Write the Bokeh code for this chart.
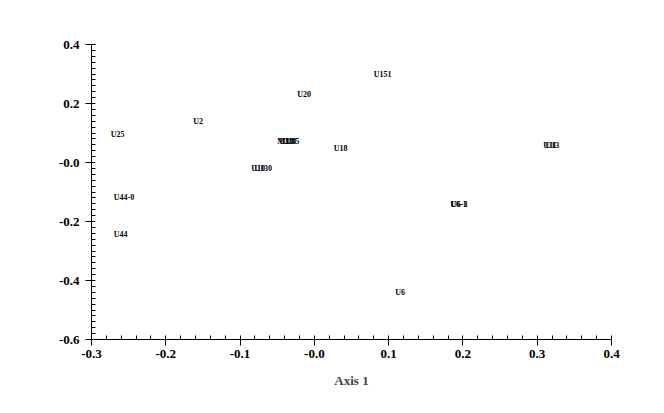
from bokeh.plotting import figure
from bokeh.models import ColumnDataSource, FixedTicker, Range1d
from bokeh.core.properties import value
from bokeh.embed import file_html
from bokeh.resources import INLINE

# Point labels and their scores on axis 1 / axis 2
names = ["U151", "U20", "U2", "U25", "M1", "U30", "U38", "U35", "U18",
         "U10", "U130", "U11", "U13", "U44-0", "U44", "U6-1", "U6-3", "U6"]
axis1 = [0.080, -0.023, -0.163, -0.274, -0.050, -0.047, -0.043, -0.039, 0.026,
         -0.085, -0.081, 0.308, 0.311, -0.270, -0.270, 0.183, 0.184, 0.109]
axis2 = [0.298, 0.231, 0.139, 0.095, 0.071, 0.071, 0.071, 0.071, 0.047,
         -0.020, -0.020, 0.057, 0.057, -0.119, -0.244, -0.142, -0.142, -0.441]

x_ticks = [-0.3, -0.2, -0.1, 0.0, 0.1, 0.2, 0.3, 0.4]
x_tick_labels = ["-0.3", "-0.2", "-0.1", "-0.0", "0.1", "0.2", "0.3", "0.4"]
y_ticks = [-0.6, -0.4, -0.2, 0.0, 0.2, 0.4]
y_tick_labels = ["-0.6", "-0.4", "-0.2", "-0.0", "0.2", "0.4"]

src = ColumnDataSource(dict(x=axis1, y=axis2, t=names))

p = figure(width=648, height=397, output_backend="svg", toolbar_location=None,
           x_range=Range1d(-0.3, 0.4), y_range=Range1d(-0.6, 0.4),
           min_border_left=91, min_border_right=37, min_border_top=44,
           min_border_bottom=58)
p.outline_line_color = None
p.xgrid.visible = False
p.ygrid.visible = False
p.background_fill_color = "white"

p.text(x="x", y="y", text="t", source=src, text_align="left",
       text_baseline="middle", text_font=value("Liberation Serif"),
       text_font_style="bold", text_font_size="8px", text_color="black")

font = "Liberation Serif"
for ax in (p.xaxis[0], p.yaxis[0]):
    ax.axis_line_color = "black"
    ax.major_tick_line_color = "black"
    ax.minor_tick_line_color = "black"
    ax.major_tick_out = 6
    ax.major_tick_in = 0
    ax.minor_tick_out = 0
    ax.minor_tick_in = 4
    ax.major_label_text_font = font
    ax.major_label_text_font_style = "bold"
    ax.major_label_text_font_size = "13px"
    ax.major_label_text_color = "black"

p.xaxis.ticker = FixedTicker(ticks=x_ticks,
                             minor_ticks=[round(-0.3 + i * 0.02, 2) for i in range(36)])
p.yaxis.ticker = FixedTicker(ticks=y_ticks,
                             minor_ticks=[round(-0.6 + i * 0.02, 2) for i in range(51)])
p.xaxis.major_label_overrides = dict(zip(x_ticks, x_tick_labels))
p.yaxis.major_label_overrides = dict(zip(y_ticks, y_tick_labels))
p.xaxis.major_label_standoff = 4
p.yaxis.major_label_standoff = 6

p.xaxis.axis_label = "Axis 1"
p.xaxis.axis_label_text_font = font
p.xaxis.axis_label_text_font_style = "bold"
p.xaxis.axis_label_text_font_size = "13px"
p.xaxis.axis_label_standoff = 12

open("out.html", "w").write(file_html(p, INLINE))
